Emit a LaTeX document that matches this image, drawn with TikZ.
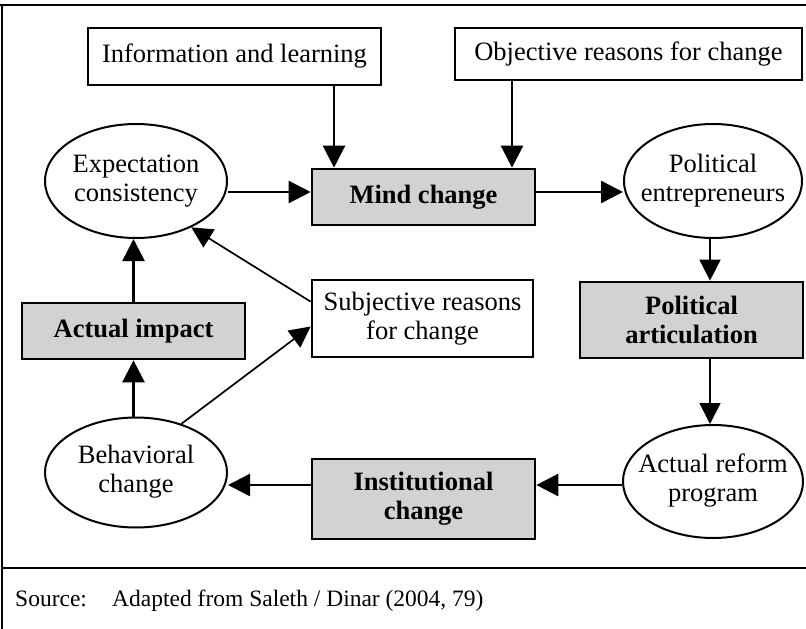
\documentclass[tikz,border=0pt]{standalone}
\usepackage{fontspec}
\setmainfont{Liberation Serif}
\usetikzlibrary{arrows.meta,shapes.geometric,calc}
\newcommand{\twol}[2]{\makebox[40pt]{\begin{tabular}{@{}c@{}}#1\\#2\end{tabular}}}
\begin{document}
\begin{tikzpicture}[x=1pt,y=-1pt,
  every node/.style={font=\fontsize{26.5}{29}\selectfont},
  plainbox/.style={draw,line width=2.7pt,rectangle,inner sep=0pt,align=center},
  graybox/.style={plainbox,fill=gray!35,font=\fontsize{26.5}{29}\selectfont\bfseries},
  oval/.style={draw,line width=2pt,ellipse,inner sep=0pt},
  arr/.style={line width=2.6pt,-{Triangle[length=22pt,width=22pt]}},
  thinarr/.style={line width=1.7pt,-{Triangle[length=21pt,width=21pt]}},
  frameline/.style={line width=2.5pt},
  srctext/.style={font=\fontsize{23.5}{28}\selectfont,anchor=base west,inner sep=0pt}]
\useasboundingbox (0,0) rectangle (806,629);
% frame
\draw[frameline] (0,5) -- (806,5);
\draw[frameline] (2,5) -- (2,629);
\draw[frameline] (2,568) -- (806,568);
% nodes
\node[plainbox,minimum width=293pt,minimum height=57pt] (info) at (234.5,56.5) {Information and learning};
\node[plainbox,minimum width=347pt,minimum height=52pt] (obj) at (628.5,54) {Objective reasons for change};
\node[oval,minimum width=182pt,minimum height=114pt] (exp) at (136,181) {\twol{Expectation}{consistency}};
\node[graybox,minimum width=223pt,minimum height=56pt] (mind) at (423.5,197) {Mind change};
\node[oval,minimum width=178pt,minimum height=114pt] (ent) at (713,181) {\twol{Political}{entrepreneurs}};
\node[plainbox,minimum width=221pt,minimum height=77pt] (subj) at (422.5,318.5) {Subjective reasons\\for change};
\node[graybox,minimum width=223pt,minimum height=56pt] (impact) at (133.5,331) {Actual impact};
\node[graybox,minimum width=223pt,minimum height=76pt] (polart) at (691.5,320) {Political\\articulation};
\node[oval,minimum width=182pt,minimum height=110pt] (beh) at (136,472.5) {\twol{Behavioral}{change}};
\node[graybox,minimum width=223pt,minimum height=80pt] (inst) at (423.5,499) {Institutional\\change};
\node[oval,minimum width=180pt,minimum height=113pt] (ref) at (713,481.5) {\twol{Actual reform}{program}};
% guide coordinates
\coordinate (xa) at (334,0);
\coordinate (xb) at (512,0);
\coordinate (yc) at (0,192);
\coordinate (xd) at (710,0);
\coordinate (ye) at (0,485);
\coordinate (xf) at (133.5,0);
% connectors
\draw[arr] (info.south -| xa) -- (mind.north -| xa);
\draw[arr] (obj.south -| xb) -- (mind.north -| xb);
\draw[arr] (exp.east |- yc) -- (mind.west |- yc);
\draw[arr] (mind.east |- yc) -- (ent.west |- yc);
\draw[thinarr] (ent.south -| xd) -- (polart.north -| xd);
\draw[thinarr] (polart.south -| xd) -- (ref.north -| xd);
\draw[arr] (ref.west |- ye) -- (inst.east |- ye);
\draw[arr] (inst.west |- ye) -- (beh.east |- ye);
\draw[arr] (beh.north -| xf) -- (impact.south -| xf);
\draw[arr] (impact.north -| xf) -- (exp.south -| xf);
\draw[thinarr] (beh.47) -- ($(subj.west)+(0,8)$);
\draw[thinarr] ($(subj.north west)+(0,23)$) -- (exp.-40);
% source
\node[srctext] (src) at (15,606) {Source:};
\node[srctext] (srcb) at (112,606) {Adapted from Saleth / Dinar (2004, 79)};
\end{tikzpicture}
\end{document}
